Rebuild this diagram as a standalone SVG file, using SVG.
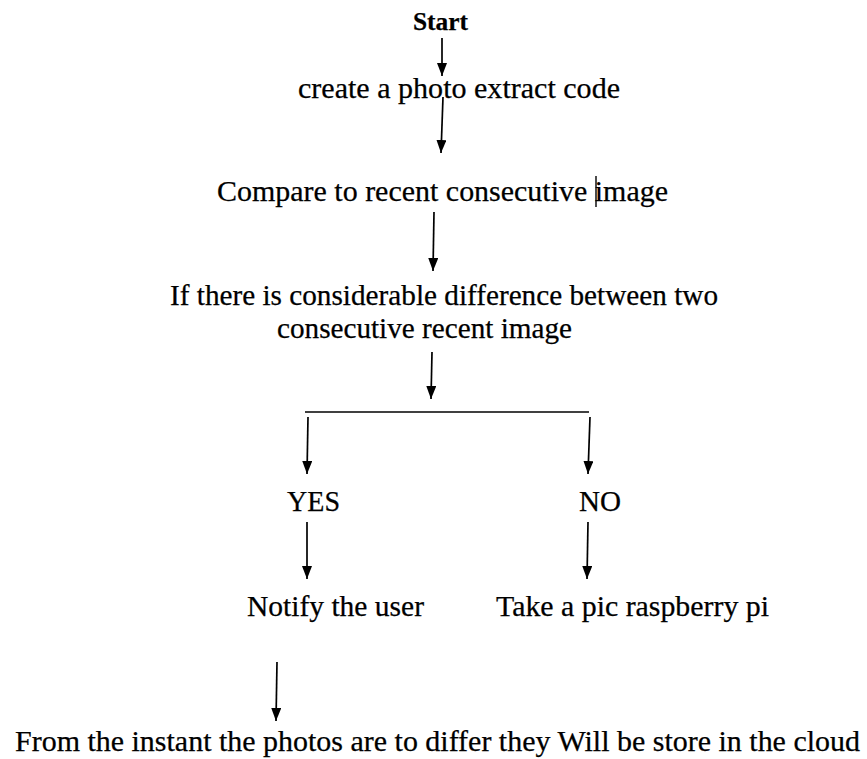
<svg xmlns="http://www.w3.org/2000/svg" width="867" height="759" viewBox="0 0 867 759">
<defs>
<style>
text { font-family: "Liberation Serif", "Times New Roman", serif; font-size: 29px; fill: #000; stroke: #000; stroke-width: 0.25; }
.bold { font-weight: bold; font-size: 26px; }
.conn line { stroke: #000; stroke-width: 1.7; fill: none; }
.arr { marker-end: url(#ah); }
</style>
<marker id="ah" markerUnits="userSpaceOnUse" markerWidth="13" markerHeight="10" refX="13" refY="5" orient="auto" viewBox="0 0 13 10">
<path d="M0,0 L13,5 L0,10 z" fill="#000"/>
</marker>
</defs>
<rect width="867" height="759" fill="#fff"/>
<g id="connectors" class="conn">
<line class="arr" x1="442" y1="38" x2="442" y2="76"/>
<line class="arr" x1="443" y1="97" x2="441" y2="153"/>
<line class="arr" x1="434" y1="212" x2="433" y2="271"/>
<line class="arr" x1="432" y1="352" x2="431" y2="399"/>
<line x1="305" y1="412" x2="589" y2="412"/>
<line class="arr" x1="308" y1="417" x2="307" y2="474"/>
<line class="arr" x1="590" y1="417" x2="588" y2="474"/>
<line class="arr" x1="307" y1="522" x2="307" y2="579"/>
<line class="arr" x1="588" y1="522" x2="587" y2="579"/>
<line class="arr" x1="277" y1="662" x2="276" y2="721"/>
</g>
<g id="start"><text class="bold" x="413" y="30" textLength="55" lengthAdjust="spacingAndGlyphs">Start</text></g>
<g id="create"><text x="298" y="98" textLength="322" lengthAdjust="spacingAndGlyphs">create a photo extract code</text></g>
<g id="compare"><text x="217" y="201" textLength="451" lengthAdjust="spacingAndGlyphs">Compare to recent consecutive image</text>
<line x1="596" y1="176" x2="596" y2="207" stroke="#000" stroke-width="1.4"/></g>
<g id="decision"><text x="170" y="305" textLength="548" lengthAdjust="spacingAndGlyphs">If there is considerable difference between two</text>
<text x="277" y="338" textLength="295" lengthAdjust="spacingAndGlyphs">consecutive recent image</text></g>
<g id="yes"><text x="287" y="511" textLength="53" lengthAdjust="spacingAndGlyphs">YES</text></g>
<g id="no"><text x="579" y="511" textLength="42" lengthAdjust="spacingAndGlyphs">NO</text></g>
<g id="notify"><text x="247" y="616" textLength="177" lengthAdjust="spacingAndGlyphs">Notify the user</text></g>
<g id="takepic"><text x="496" y="616" textLength="273" lengthAdjust="spacingAndGlyphs">Take a pic raspberry pi</text></g>
<g id="store"><text x="15" y="751" textLength="845" lengthAdjust="spacingAndGlyphs">From the instant the photos are to differ they Will be store in the cloud</text></g>
</svg>
